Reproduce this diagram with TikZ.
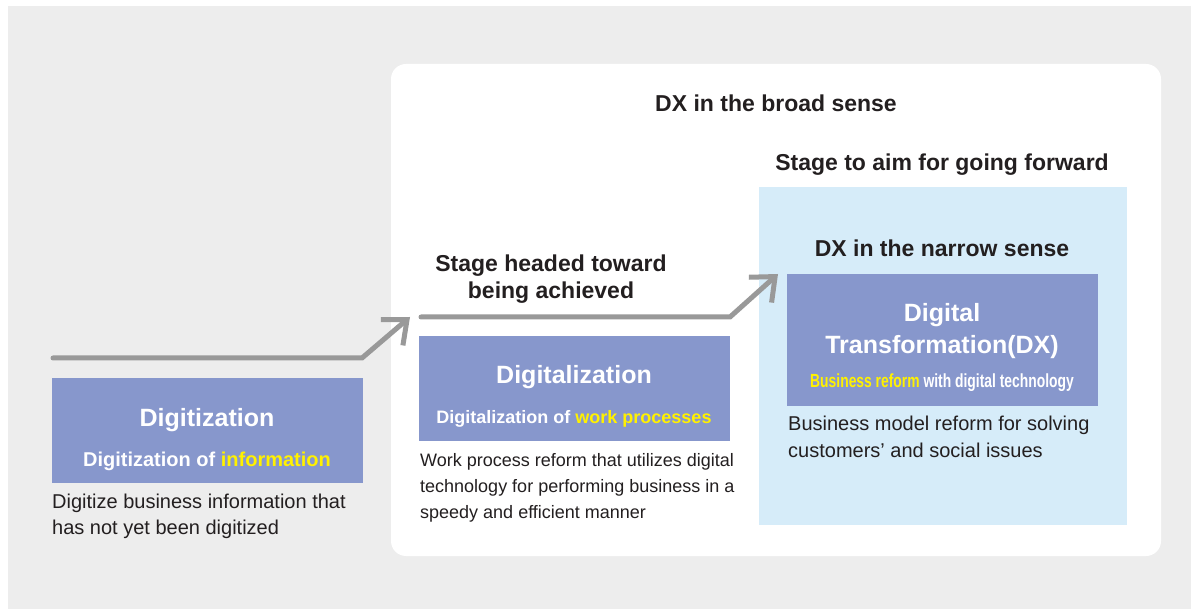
\documentclass[tikz,border=0pt]{standalone}
\usepackage{fontspec}
\setmainfont{Liberation Sans}
\usetikzlibrary{arrows.meta, positioning}
\definecolor{panelgray}{RGB}{237,237,237}
\definecolor{boxblue}{RGB}{135,151,204}
\definecolor{paleblue}{RGB}{214,236,249}
\definecolor{hiyellow}{RGB}{255,241,0}
\definecolor{arrowgray}{RGB}{153,153,153}
\definecolor{darktext}{RGB}{35,31,32}

\begin{document}
\begin{tikzpicture}[x=1pt, y=-1pt,
  stagebox/.style={rectangle, fill=boxblue, minimum width=311pt, inner sep=0pt},
  title/.style={anchor=base, text=white, inner sep=0pt, font=\bfseries\fontsize{25}{30}\selectfont},
  subtitle/.style={anchor=base, text=white, inner sep=0pt, font=\bfseries\fontsize{#1}{23}\selectfont},
  subtitle/.default=19,
  heading/.style={anchor=base, text=darktext, inner sep=0pt, font=\bfseries\fontsize{23}{27}\selectfont},
  desc/.style={anchor=base west, text=darktext, inner sep=0pt, font=\fontsize{#1}{26}\selectfont},
  desc/.default=20,
  stepline/.style={arrowgray, line width=5pt, line cap=round,
    -{Straight Barb[length=20pt, width=34pt]}}]
\useasboundingbox (0,0) rectangle (1191,609);

% Backdrop and frames
\fill[panelgray] (8,6) rectangle (1191,609);
\node[rectangle, fill=white, rounded corners=15pt, minimum width=770pt, minimum height=492pt] (broad) at (776,310) {};
\node[rectangle, fill=paleblue, minimum width=368pt, minimum height=338pt] (aim) at (943,356) {};

\node[heading] (broadlbl) at (776,112) {DX in the broad sense};
\node[heading] (aimlbl) at (942,171) {Stage to aim for going forward};
\node[heading] (narrowlbl) at (942,257) {DX in the narrow sense};
\node[heading] (headedA) at (551,272) {Stage headed toward};
\node[heading] (headedB) at (551,299) {being achieved};

% Stage 1
\node[stagebox, minimum height=105pt] (digitization) at (207.5,430.5) {};
\node[title] (digitizationT) at (207,426) {Digitization};
\node[subtitle=20] (digitizationS) at (207,466) {Digitization of \textcolor{hiyellow}{information}};
\node[desc] (descA1) at (52,508) {Digitize business information that};
\node[desc] (descA2) at (52,534) {has not yet been digitized};

% Stage 2
\node[stagebox, minimum height=105pt] (digitalization) at (574.5,388.5) {};
\node[title] (digitalizationT) at (574,383) {Digitalization};
\node[subtitle=18] (digitalizationS) at (574,423) {Digitalization of \textcolor{hiyellow}{work processes}};
\node[desc=18] (descB1) at (420,466) {Work process reform that utilizes digital};
\node[desc=18] (descB2) at (420,492) {technology for performing business in a};
\node[desc=18] (descB3) at (420,518) {speedy and efficient manner};

% Stage 3
\node[stagebox, minimum height=132pt] (dx) at (942.5,340) {};
\node[title] (dxT1) at (942,322) {Digital};
\node[title] (dxT2) at (942,354) {Transformation(DX)};
\node[subtitle] (dxS) at (942,388) {\scalebox{0.73}[1]{\textcolor{hiyellow}{Business reform} with digital technology}};
\node[desc] (descC1) at (788,430) {Business model reform for solving};
\node[desc] (descC2) at (788,457) {customers’ and social issues};

% Step arrows
\coordinate (startA) at (53,358);
\coordinate (bendA) at (362,358);
\coordinate (tipA) at (410,317);
\coordinate (startB) at (421,317);
\coordinate (bendB) at (730,317);
\coordinate (tipB) at (778,274);
\draw[stepline] (startA) -- (bendA) -- (tipA);
\draw[stepline] (startB) -- (bendB) -- (tipB);
\end{tikzpicture}
\end{document}
